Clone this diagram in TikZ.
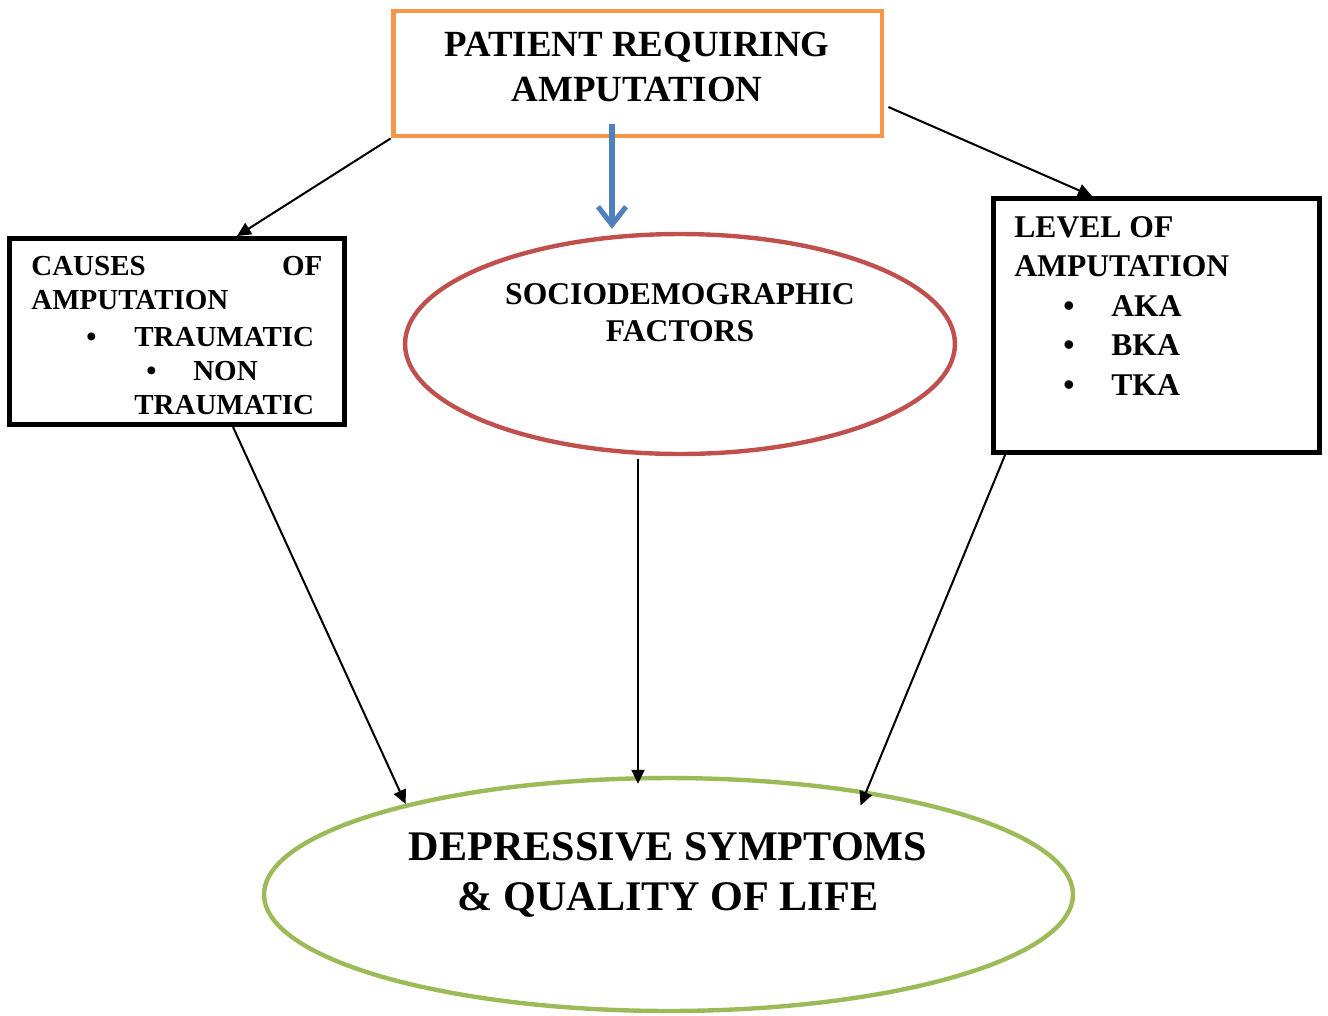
\documentclass[tikz,border=0pt]{standalone}
\usepackage{fontspec}
\setmainfont{Liberation Serif}
\usetikzlibrary{shapes.geometric,arrows.meta,calc}
\definecolor{boxorange}{HTML}{F79646}
\definecolor{arrowblue}{HTML}{4F81BD}
\definecolor{ovalred}{HTML}{C0504D}
\definecolor{ovalgreen}{HTML}{9BBB59}
\begin{document}
\begin{tikzpicture}[x=0.02cm,y=-0.02cm,
  sq/.style={draw,rectangle,line width=2.8pt,inner sep=0pt},
  oval/.style={draw,ellipse,line width=2.5pt,inner sep=0pt},
  arr/.style={line width=1.15pt,-{Triangle[length=0.28cm,width=0.26cm]}},
  txt/.style={inner sep=0pt}]
\useasboundingbox (0,0) rectangle (1328,1015);
% boxes and ovals
\node[sq,draw=boxorange,minimum width=9.78cm,minimum height=2.5cm] (patient) at (637.5,73.5) {};
\node[sq,minimum width=6.7cm,minimum height=3.72cm] (causes) at (177,331.5) {};
\node[sq,minimum width=6.52cm,minimum height=5.08cm] (level) at (1156.5,325.5) {};
\node[oval,draw=ovalred,minimum width=11cm,minimum height=4.4cm] (socio) at (680,344) {};
\node[oval,draw=ovalgreen,minimum width=16.18cm,minimum height=4.66cm] (depress) at (668.5,894.5) {};
% texts
\node[txt,anchor=north,align=center,font=\bfseries\fontsize{21}{25.6}\selectfont] (patienttxt) at (637,32)
  {PATIENT REQUIRING\\AMPUTATION};
\node[txt,anchor=north west,align=left,font=\bfseries\fontsize{16.5}{19.3}\selectfont] (causestxt) at (31,256)
  {\makebox[5.82cm][l]{CAUSES\hfill OF}\\
   AMPUTATION\\[2pt]
   \hspace*{1.1cm}\makebox[0.96cm][l]{\textbullet}TRAUMATIC\\
   \hspace*{2.3cm}\makebox[0.94cm][l]{\textbullet}NON\\
   \hspace*{2.06cm}TRAUMATIC};
\node[txt,anchor=north west,align=left,font=\bfseries\fontsize{18}{22.5}\selectfont] (leveltxt) at (1014,216)
  {LEVEL OF\\
   AMPUTATION\\
   \hspace*{0.98cm}\makebox[0.96cm][l]{\textbullet}AKA\\
   \hspace*{0.98cm}\makebox[0.96cm][l]{\textbullet}BKA\\
   \hspace*{0.98cm}\makebox[0.96cm][l]{\textbullet}TKA};
\node[txt,anchor=north,align=center,font=\bfseries\fontsize{18}{21}\selectfont] (sociotxt) at (680,283)
  {SOCIODEMOGRAPHIC\\FACTORS};
\node[txt,anchor=north,align=center,font=\bfseries\fontsize{24}{28.5}\selectfont] (depresstxt) at (668,832)
  {DEPRESSIVE SYMPTOMS\\\& QUALITY OF LIFE};
% connectors
\draw[line width=2.9pt,arrowblue,-{Straight Barb[length=0.36cm,width=0.56cm]}]
  ($(patient.south)+(-25.5,-14)$) -- ($(patient.south |- socio.north)+(-25.5,-3)$);
\draw[arr] (patient.south west) -- ($(causes.north)+(60,0)$);
\draw[arr] ($(patient.east)+(4,33.5)$) -- ($(level.north)+(-64.5,0)$);
\draw[arr] ($(causes.south)+(56,0)$) -- (depress.161);
\draw[arr] ($(socio.south)+(-42,3)$) -- ($(socio.south |- depress.north)+(-42,8)$);
\draw[arr] ($(level.south west)+(14,0)$) -- ($(depress.center)+(192,-89)$);
\end{tikzpicture}
\end{document}
